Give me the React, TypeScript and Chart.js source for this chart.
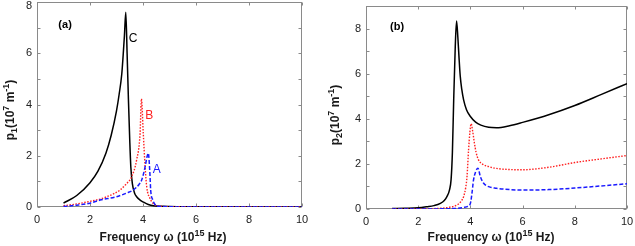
import React, { useEffect, useRef } from "react";
import { Chart, registerables } from "chart.js";

Chart.register(...registerables);

// ---------- Panel (a): p1 ----------
const aC_x = [1, 1.5, 2, 2.3, 2.6, 2.8, 3.0, 3.1, 3.2, 3.25, 3.3, 3.35, 3.4, 3.45, 3.5, 3.54, 3.6, 3.68, 3.76, 3.9, 4.0, 4.2, 4.4, 4.7, 5, 5.5, 10];
const aC_y = [0.15, 0.45, 0.95, 1.4, 2.1, 2.8, 3.75, 4.4, 5.2, 5.9, 6.7, 7.6, 6.0, 4.2, 2.6, 1.57, 0.9, 0.55, 0.4, 0.26, 0.2, 0.1, 0.05, 0.03, 0.02, 0.01, 0];

const aB_x = [1, 1.5, 2, 2.38, 2.63, 2.9, 3.13, 3.35, 3.57, 3.76, 3.89, 3.94, 4.01, 4.08, 4.14, 4.26, 4.35, 4.45, 4.6, 5, 10];
const aB_y = [0.05, 0.12, 0.22, 0.31, 0.4, 0.52, 0.66, 0.88, 1.18, 1.84, 2.88, 4.22, 2.88, 1.57, 0.79, 0.34, 0.18, 0.08, 0.04, 0.01, 0];

const aA_x = [1, 1.5, 2, 2.38, 3.0, 3.4, 3.63, 3.85, 3.95, 4.08, 4.15, 4.2, 4.26, 4.29, 4.37, 4.45, 4.52, 4.7, 5, 5.4, 10];
const aA_y = [0.02, 0.07, 0.15, 0.27, 0.4, 0.55, 0.66, 0.88, 1.05, 1.57, 1.95, 2.1, 1.32, 0.66, 0.27, 0.1, 0.04, 0.02, 0.01, 0, 0];

// ---------- Panel (b): p2 ----------
const bC_x = [1, 1.5, 2, 2.34, 2.6, 2.85, 3.0, 3.1, 3.2, 3.26, 3.31, 3.36, 3.42, 3.47, 3.52, 3.56, 3.61, 3.67, 3.74, 3.85, 4.0, 4.2, 4.4, 4.7, 5.0, 5.5, 6, 7, 8, 9, 10];
const bC_y = [0.02, 0.03, 0.05, 0.1, 0.15, 0.25, 0.38, 0.55, 0.85, 1.3, 2.5, 4.84, 7.2, 8.33, 7.6, 6.8, 5.9, 5.3, 4.84, 4.4, 4.1, 3.85, 3.72, 3.62, 3.6, 3.69, 3.84, 4.18, 4.59, 5.07, 5.56];

const bB_x = [1, 2, 2.85, 3.2, 3.49, 3.65, 3.74, 3.82, 3.87, 3.93, 3.98, 4.03, 4.08, 4.15, 4.22, 4.31, 4.45, 4.7, 5, 5.5, 6, 7, 8, 9, 10];
const bB_y = [0, 0.01, 0.03, 0.08, 0.18, 0.35, 0.55, 0.95, 1.44, 2.62, 3.4, 3.78, 3.5, 2.95, 2.5, 2.18, 2.0, 1.88, 1.8, 1.75, 1.74, 1.85, 2.06, 2.22, 2.37];

const bA_x = [1, 2, 3, 3.5, 3.74, 3.9, 4.0, 4.06, 4.12, 4.2, 4.29, 4.38, 4.5, 4.7, 5, 5.5, 6, 7, 8, 9, 10];
const bA_y = [0, 0, 0.01, 0.03, 0.07, 0.12, 0.25, 0.7, 1.29, 1.65, 1.81, 1.44, 1.15, 0.99, 0.92, 0.86, 0.84, 0.86, 0.93, 1.02, 1.12];

// tick values
const xTickVals = [0, 2, 4, 6, 8, 10];
const yTickValsA = [0, 1, 2, 3, 4, 5, 6, 7, 8];
const yTickValsB = [0, 1, 2, 3, 4, 5, 6, 7, 8, 9];

// axis titles as rich-text segments (n = normal, sup = superscript, sub = subscript)
type Seg = [string, "n" | "sup" | "sub"];
const xTitleSegs: Seg[] = [["Frequency ω (10", "n"], ["15", "sup"], [" Hz)", "n"]];
const yTitleSegsA: Seg[] = [["p", "n"], ["1", "sub"], ["(10", "n"], ["7", "sup"], [" m", "n"], ["-1", "sup"], [")", "n"]];
const yTitleSegsB: Seg[] = [["p", "n"], ["2", "sub"], ["(10", "n"], ["7", "sup"], [" m", "n"], ["-1", "sup"], [")", "n"]];

const FONT = "'Liberation Sans', Arial, sans-serif";
const BLACK = "#000000";
const RED = "#ff2020";
const BLUE = "#1a1aff";

const pts = (xs: number[], ys: number[]) => xs.map((x, i) => ({ x, y: ys[i] }));

type Label = { text: string; x: number; y: number; color: string; bold?: boolean; size?: number };

function drawRich(ctx: CanvasRenderingContext2D, segs: Seg[], cx: number, cy: number, size: number) {
  const small = Math.round(size * 0.72);
  const fontFor = (k: string) => `bold ${k === "n" ? size : small}px ${FONT}`;
  let total = 0;
  const widths = segs.map(([t, k]) => {
    ctx.font = fontFor(k);
    const w = ctx.measureText(t).width;
    total += w;
    return w;
  });
  let x = cx - total / 2;
  ctx.textAlign = "left";
  ctx.textBaseline = "alphabetic";
  const base = cy + size * 0.36;
  segs.forEach(([t, k], i) => {
    ctx.font = fontFor(k);
    const dy = k === "sup" ? -size * 0.42 : k === "sub" ? size * 0.25 : 0;
    ctx.fillText(t, x, base + dy);
    x += widths[i];
  });
}

const framePlugin = {
  id: "frameTicks",
  beforeDatasetsDraw(chart: any, _a: any, opts: any) {
    const { ctx, chartArea, scales } = chart;
    const { left, right, top, bottom } = chartArea;
    ctx.save();
    ctx.strokeStyle = "#8a8a8a";
    ctx.lineWidth = 1;
    const L = Math.round(left) + 0.5;
    const R = Math.round(right) - 0.5;
    const T = Math.round(top) + 0.5;
    const B = Math.round(bottom) - 0.5;
    ctx.strokeRect(L, T, R - L, B - T);
    ctx.beginPath();
    for (const v of opts.xTicks) {
      const px = Math.round(scales.x.getPixelForValue(v)) + 0.5;
      ctx.moveTo(px, B);
      ctx.lineTo(px, B - 3);
      ctx.moveTo(px, T);
      ctx.lineTo(px, T + 3);
    }
    for (const v of opts.yTicks) {
      const py = Math.round(scales.y.getPixelForValue(v)) + 0.5;
      ctx.moveTo(L, py);
      ctx.lineTo(L + 3, py);
      ctx.moveTo(R, py);
      ctx.lineTo(R - 3, py);
    }
    ctx.stroke();
    // top tick label kept inside the canvas
    if (opts.topLabel) {
      ctx.fillStyle = "#222";
      ctx.font = `11px ${FONT}`;
      ctx.textAlign = "right";
      ctx.textBaseline = "middle";
      ctx.fillText(opts.topLabel, left - 5, Math.max(scales.y.getPixelForValue(opts.topLabelValue), 6));
    }
    ctx.restore();
  },
  afterDatasetsDraw(chart: any, _a: any, opts: any) {
    const { ctx, scales } = chart;
    ctx.save();
    ctx.textAlign = "center";
    ctx.textBaseline = "middle";
    for (const l of opts.labels as Label[]) {
      ctx.fillStyle = l.color;
      ctx.font = `${l.bold ? "bold " : ""}${l.size || 12}px ${FONT}`;
      ctx.fillText(l.text, scales.x.getPixelForValue(l.x), scales.y.getPixelForValue(l.y));
    }
    ctx.fillStyle = "#1a1a1a";
    drawRich(ctx, opts.xTitle, opts.xTitlePos[0], opts.xTitlePos[1], 12);
    ctx.translate(opts.yTitlePos[0], opts.yTitlePos[1]);
    ctx.rotate(-Math.PI / 2);
    drawRich(ctx, opts.yTitle, 0, 0, 12);
    ctx.restore();
  },
};

type PanelProps = {
  left: number;
  width: number;
  yMax: number;
  yTicks: number[];
  yAxisWidth: number;
  xAxisHeight: number;
  padTop: number;
  padRight: number;
  series: { xs: number[]; ys: number[]; color: string; dash: number[]; width: number }[];
  labels: Label[];
  yTitle: Seg[];
  yTitlePos: [number, number];
  xTitlePos: [number, number];
  topLabel?: string;
};

function Panel(p: PanelProps) {
  const ref = useRef<HTMLCanvasElement | null>(null);
  useEffect(() => {
    if (!ref.current) return;
    const chart = new Chart(ref.current, {
      type: "line",
      data: {
        datasets: p.series.map((s) => ({
          data: pts(s.xs, s.ys),
          borderColor: s.color,
          borderWidth: s.width,
          borderDash: s.dash,
          pointRadius: 0,
          fill: false,
          tension: 0,
          cubicInterpolationMode: "monotone" as const,
        })),
      },
      options: {
        animation: false,
        responsive: false,
        maintainAspectRatio: false,
        layout: { padding: { left: 0, right: p.padRight, top: p.padTop, bottom: 0 } },
        plugins: {
          legend: { display: false },
          tooltip: { enabled: false },
          frameTicks: {
            xTicks: xTickVals,
            yTicks: p.yTicks,
            labels: p.labels,
            xTitle: xTitleSegs,
            yTitle: p.yTitle,
            xTitlePos: p.xTitlePos,
            yTitlePos: p.yTitlePos,
            topLabel: p.topLabel,
            topLabelValue: p.yMax,
          },
        } as any,
        scales: {
          x: {
            type: "linear",
            min: 0,
            max: 10,
            grid: { display: false, drawTicks: false },
            border: { display: false },
            ticks: {
              stepSize: 2,
              padding: 6,
              autoSkip: false,
              maxRotation: 0,
              color: "#222",
              font: { family: FONT, size: 11 },
            },
            afterFit(s: any) {
              s.height = p.xAxisHeight;
              s.paddingLeft = 0;
              s.paddingRight = 0;
            },
          },
          y: {
            type: "linear",
            min: 0,
            max: p.yMax,
            grid: { display: false, drawTicks: false },
            border: { display: false },
            ticks: {
              stepSize: 1,
              padding: 5,
              autoSkip: false,
              color: "#222",
              font: { family: FONT, size: 11 },
              callback: (v: any) =>
                p.topLabel && Number(v) === p.yMax ? "" : Number(v) % 2 === 0 ? String(v) : "",
            },
            afterFit(s: any) {
              s.width = p.yAxisWidth;
              s.paddingTop = 0;
              s.paddingBottom = 0;
            },
          },
        },
      },
      plugins: [framePlugin],
    });
    return () => chart.destroy();
  }, []);
  return (
    <canvas
      ref={ref}
      width={p.width}
      height={246}
      style={{ position: "absolute", left: p.left, top: 0, width: p.width, height: 246 }}
    />
  );
}

export default function App() {
  return (
    <div style={{ position: "fixed", left: 0, top: 0, width: 635, height: 246, background: "#fff" }}>
      <Panel
        left={0}
        width={317}
        yMax={8}
        yTicks={yTickValsA}
        yAxisWidth={37}
        xAxisHeight={39}
        padTop={2}
        padRight={15}
        topLabel="8"
        series={[
          { xs: aA_x, ys: aA_y, color: BLUE, dash: [4, 2], width: 1.5 },
          { xs: aB_x, ys: aB_y, color: RED, dash: [1.5, 1.5], width: 1.4 },
          { xs: aC_x, ys: aC_y, color: BLACK, dash: [], width: 1.5 },
        ]}
        labels={[
          { text: "(a)", x: 1.06, y: 7.1, color: BLACK, bold: true, size: 11 },
          { text: "C", x: 3.63, y: 6.55, color: BLACK, size: 12 },
          { text: "B", x: 4.24, y: 3.55, color: RED, size: 12 },
          { text: "A", x: 4.52, y: 1.45, color: BLUE, size: 12 },
        ]}
        yTitle={yTitleSegsA}
        yTitlePos={[10, 110]}
        xTitlePos={[163, 237]}
      />
      <Panel
        left={317}
        width={318}
        yMax={9}
        yTicks={yTickValsB}
        yAxisWidth={49}
        xAxisHeight={37}
        padTop={6}
        padRight={8}
        series={[
          { xs: bA_x, ys: bA_y, color: BLUE, dash: [4, 2], width: 1.5 },
          { xs: bB_x, ys: bB_y, color: RED, dash: [1.5, 1.5], width: 1.4 },
          { xs: bC_x, ys: bC_y, color: BLACK, dash: [], width: 1.5 },
        ]}
        labels={[{ text: "(b)", x: 1.19, y: 8.07, color: BLACK, bold: true, size: 11 }]}
        yTitle={yTitleSegsB}
        yTitlePos={[18, 115]}
        xTitlePos={[174, 237]}
      />
    </div>
  );
}
